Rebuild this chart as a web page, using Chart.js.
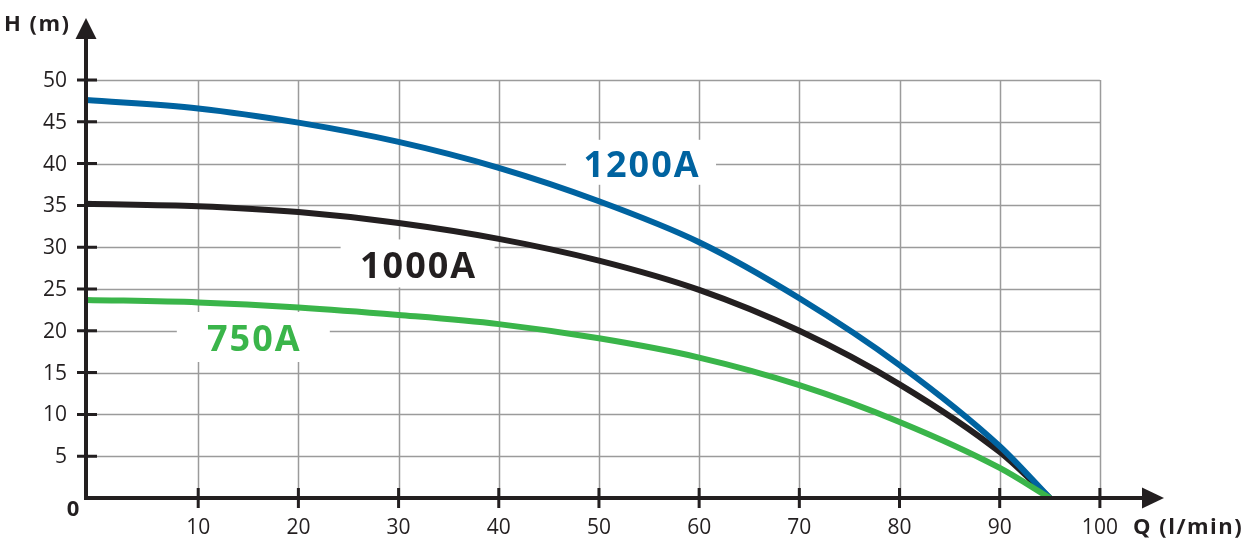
<!DOCTYPE html>
<html>
<head>
<meta charset="utf-8">
<title>Pump curves</title>
<script src="https://cdn.jsdelivr.net/npm/chart.js@4/dist/chart.umd.min.js"></script>
<style>
  html, body { margin: 0; padding: 0; background: #fff; }
  canvas { display: block; }
</style>
</head>
<body>
<canvas id="pumpChart" width="1251" height="559"></canvas>
<script>
// flow (l/min) and head (m)
const qValues = [-1.2, 10, 20, 30, 40, 50, 60, 70, 80, 90, 95];
const head1200 = [47.6, 46.6, 44.9, 42.6, 39.5, 35.5, 30.6, 23.9, 15.9, 6.2, 0];
const head1000 = [35.2, 34.9, 34.2, 32.9, 31.0, 28.4, 24.9, 20.0, 13.6, 5.5, 0];
const head750 = [23.7, 23.4, 22.8, 21.9, 20.8, 19.1, 16.8, 13.5, 9.1, 3.6, 0];

const xTicks = [10, 20, 30, 40, 50, 60, 70, 80, 90, 100];
const yTicks = [5, 10, 15, 20, 25, 30, 35, 40, 45, 50];

const ink = '#231f20';
const blue = '#0063a0';
const green = '#3ab54a';
const font = '"Open Sans", "Noto Sans", sans-serif';

// curve name tags: centre in chart units
const tags = [
    { text: '1200A', color: blue, q: 54.2, h: 39.8, w: 150, hgt: 45 },
    { text: '1000A', color: ink, q: 31.9, h: 27.7, w: 154, hgt: 48 },
    { text: '750A', color: green, q: 15.5, h: 18.9, w: 153, hgt: 50 }
];

function toPoints(heads) {
    return qValues.map((q, i) => ({ x: q, y: heads[i] }));
}

const pumpAxes = {
    id: 'pumpAxes',
    beforeDatasetsDraw(chart) {
        const ctx = chart.ctx;
        const xs = chart.scales.x;
        const ys = chart.scales.y;
        ctx.save();
        // grid
        ctx.strokeStyle = '#9b9b9b';
        ctx.lineWidth = 1.5;
        ctx.beginPath();
        xTicks.forEach(q => {
            const x = Math.round(xs.getPixelForValue(q)) + 0.5;
            ctx.moveTo(x, ys.getPixelForValue(0));
            ctx.lineTo(x, ys.getPixelForValue(50));
        });
        yTicks.forEach(h => {
            const y = Math.round(ys.getPixelForValue(h)) + 0.5;
            ctx.moveTo(xs.getPixelForValue(xs.min), y);
            ctx.lineTo(xs.getPixelForValue(100), y);
        });
        ctx.stroke();

        // tags with white boxes over the grid
        ctx.font = 'bold 36px ' + font;
        ctx.letterSpacing = '2px';
        ctx.textAlign = 'center';
        ctx.textBaseline = 'middle';
        tags.forEach(t => {
            const cx = xs.getPixelForValue(t.q);
            const cy = ys.getPixelForValue(t.h);
            ctx.fillStyle = '#fff';
            ctx.fillRect(cx - t.w / 2, cy - t.hgt / 2 - 3, t.w, t.hgt);
            ctx.fillStyle = t.color;
            ctx.fillText(t.text, cx + 1, cy + 1);
        });
        ctx.restore();
    },
    afterDatasetsDraw(chart) {
        const ctx = chart.ctx;
        const xs = chart.scales.x;
        const ys = chart.scales.y;
        const area = chart.chartArea;
        const x0 = xs.getPixelForValue(xs.min);
        const y0 = ys.getPixelForValue(0);
        ctx.save();
        ctx.strokeStyle = ink;
        ctx.fillStyle = ink;

        // axes
        ctx.lineWidth = 4;
        ctx.beginPath();
        ctx.moveTo(x0, y0 + 2);
        ctx.lineTo(x0, area.top + 18);
        ctx.moveTo(x0 - 2, y0);
        ctx.lineTo(area.right - 20, y0);
        ctx.stroke();

        // arrow heads
        ctx.beginPath();
        ctx.moveTo(x0, area.top - 1);
        ctx.lineTo(x0 - 10.5, area.top + 20);
        ctx.lineTo(x0 + 10.5, area.top + 20);
        ctx.closePath();
        ctx.fill();
        ctx.beginPath();
        ctx.moveTo(area.right + 1, y0);
        ctx.lineTo(area.right - 21, y0 - 10.5);
        ctx.lineTo(area.right - 21, y0 + 10.5);
        ctx.closePath();
        ctx.fill();

        // tick marks
        ctx.lineWidth = 3;
        ctx.beginPath();
        yTicks.forEach(h => {
            const y = ys.getPixelForValue(h);
            ctx.moveTo(x0 - 9, y);
            ctx.lineTo(x0 + 11, y);
        });
        xTicks.forEach(q => {
            const x = xs.getPixelForValue(q);
            ctx.moveTo(x, y0 - 10);
            ctx.lineTo(x, y0 + 10);
        });
        ctx.stroke();

        // tick labels
        ctx.font = '21px ' + font;
        ctx.textBaseline = 'middle';
        ctx.textAlign = 'right';
        yTicks.forEach(h => ctx.fillText(String(h), x0 - 19, ys.getPixelForValue(h) + 1));
        ctx.textAlign = 'center';
        xTicks.forEach(q => ctx.fillText(String(q), xs.getPixelForValue(q), y0 + 30));

        // axis titles and origin
        ctx.font = 'bold 22px ' + font;
        ctx.textAlign = 'center';
        ctx.fillText('0', x0 - 13, y0 + 12);
        ctx.textAlign = 'left';
        ctx.letterSpacing = '1.5px';
        ctx.fillText('H (m)', 4, 25);
        ctx.fillText('Q (l/min)', 1133, y0 + 30);
        ctx.restore();
    }
};

const lineStyle = {
    showLine: true,
    pointRadius: 0,
    borderWidth: 6,
    fill: false,
    cubicInterpolationMode: 'monotone',
    borderCapStyle: 'butt'
};

new Chart(document.getElementById('pumpChart'), {
    type: 'scatter',
    data: {
        datasets: [
            Object.assign({ label: '750A', data: toPoints(head750), borderColor: green, order: 1 }, lineStyle),
            Object.assign({ label: '1200A', data: toPoints(head1200), borderColor: blue, order: 2 }, lineStyle),
            Object.assign({ label: '1000A', data: toPoints(head1000), borderColor: ink, order: 3 }, lineStyle)
        ]
    },
    options: {
        responsive: false,
        animation: false,
        layout: { padding: { left: 86, right: 88, top: 19, bottom: 61 } },
        plugins: { legend: { display: false }, tooltip: { enabled: false } },
        scales: {
            x: { type: 'linear', min: -1.2, max: 106.3, display: false },
            y: { type: 'linear', min: 0, max: 57.3, display: false }
        }
    },
    plugins: [pumpAxes]
});
</script>
</body>
</html>
